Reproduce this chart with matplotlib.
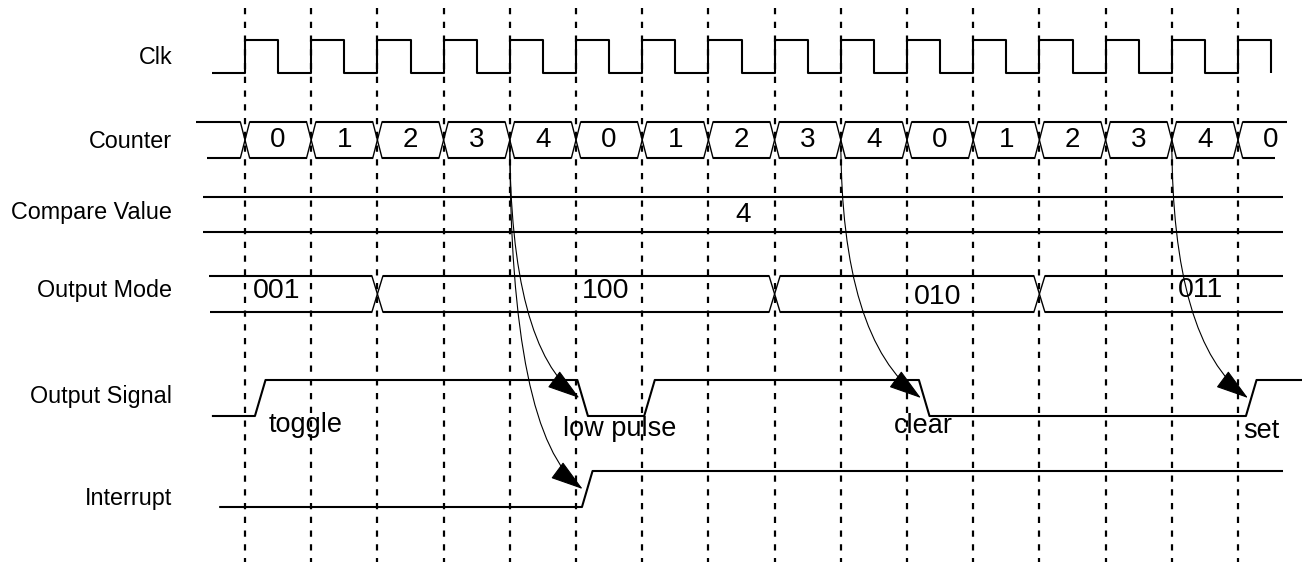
import numpy as np
import matplotlib.pyplot as plt
from matplotlib.patches import FancyArrowPatch
from matplotlib.path import Path

plt.rcParams['font.family'] = ['Liberation Sans', 'DejaVu Sans']
plt.rcParams['lines.scale_dashes'] = False

# Signal data (time in clock cycles)
row_names = ["Clk", "Counter", "Compare Value", "Output Mode", "Output Signal", "Interrupt"]
n_cycles = 16
counter_values = [0, 1, 2, 3, 4, 0, 1, 2, 3, 4, 0, 1, 2, 3, 4, 0]
compare_value = 4
mode_values = ["001", "100", "010", "011"]
mode_changes = [2, 8, 12]
mode_names = ["toggle", "low pulse", "clear", "set"]
out_edges = [0.15, 5.02, 6.03, 10.18, 15.12]
out_levels = [1, 0, 1, 0, 1]
irq_edge = 5.09
slew = 0.16

# Layout (y in pixels from top, x in cycles)
PX = 66.2                      # pixels per cycle
X0 = 245.0                     # pixel of cycle 0
rows_y = {"Clk": (40, 73), "Counter": (122, 158), "Compare Value": (197, 232),
          "Output Mode": (276, 312), "Output Signal": (380, 416), "Interrupt": (471, 507)}
label_y = [57, 141, 213, 291, 397, 498]
mode_label_x = [0.48, 5.44, 10.47, 14.44]
mode_label_y = [291, 291, 297, 290]
name_x = [0.92, 5.66, 10.24, 15.35]
name_y = [425, 429, 426, 431]

fig = plt.figure(figsize=(13.02, 5.65), dpi=100)
ax = fig.add_axes([0, 0, 1, 1])
ax.set_xlim(-X0 / PX, (1302 - X0) / PX)
ax.set_ylim(565, 0)
ax.axis("off")

LW = 1.5
kw = dict(color="black", lw=LW, solid_capstyle="butt")

# dashed cycle markers
for k in range(n_cycles):
    ax.plot([k, k], [8, 562], color="black", lw=1.6, linestyle=(0, (4.5, 5.4)))

# row labels
for name, y in zip(row_names, label_y):
    ax.text(-1.1, y, name, ha="right", va="center", fontsize=16.8)

# clock
hi, lo = rows_y["Clk"]
cx = [-0.5]
cy = [lo]
for k in range(n_cycles):
    cx += [k, k, k + 0.5, k + 0.5]
    cy += [lo, hi, hi, lo]
ax.plot(cx, cy, **kw)


def draw_bus(y_top, y_bot, trans, start, end, h):
    bounds = [start[0]] + list(trans) + [end[0]]
    n = len(bounds) - 1
    for i in range(n):
        a_top = start[0] if i == 0 else bounds[i] + h
        a_bot = start[1] if i == 0 else bounds[i] + h
        b_top = end[0] if i == n - 1 else bounds[i + 1] - h
        b_bot = end[1] if i == n - 1 else bounds[i + 1] - h
        ax.plot([a_top, b_top], [y_top, y_top], **kw)
        ax.plot([a_bot, b_bot], [y_bot, y_bot], **kw)
    for t in trans:
        ax.plot([t - h, t + h], [y_top, y_bot], color="black", lw=1.0)
        ax.plot([t - h, t + h], [y_bot, y_top], color="black", lw=1.0)


# counter bus
ct, cb = rows_y["Counter"]
draw_bus(ct, cb, range(n_cycles), (-0.74, -0.57), (15.74, 15.56), 0.07)
for k, v in enumerate(counter_values):
    ax.text(k + 0.5, (ct + cb) / 2, str(v), ha="center", va="center", fontsize=20)

# compare value
pt, pb = rows_y["Compare Value"]
ax.plot([-0.63, 15.68], [pt, pt], **kw)
ax.plot([-0.63, 15.68], [pb, pb], **kw)
ax.text(7.52, (pt + pb) / 2, str(compare_value), ha="center", va="center", fontsize=20)

# output mode bus
mt, mb = rows_y["Output Mode"]
draw_bus(mt, mb, mode_changes, (-0.54, -0.53), (15.68, 15.68), 0.083)
for v, x, y in zip(mode_values, mode_label_x, mode_label_y):
    ax.text(x, y, v, ha="center", va="center", fontsize=20.5)

# output signal
oh, ol = rows_y["Output Signal"]
lvl = {1: oh, 0: ol}
sx, sy = [-0.5], [ol]
prev = 0
for t, L in zip(out_edges, out_levels):
    sx += [t, t + slew]
    sy += [lvl[prev], lvl[L]]
    prev = L
sx.append(16.2)
sy.append(lvl[prev])
ax.plot(sx, sy, **kw)
for v, x, y in zip(mode_names, name_x, name_y):
    ax.text(x, y, v, ha="center", va="center", fontsize=19.5)

# interrupt
ih, il = rows_y["Interrupt"]
ax.plot([-0.39, irq_edge, irq_edge + slew, 15.68], [il, il, ih, ih], **kw)

# causal arrows from compare match to output/interrupt edges
match_cycles = [k for k, v in enumerate(counter_values) if v == compare_value]
targets = []
for m in match_cycles:
    nxt = [i for i, t in enumerate(out_edges) if t > m][0]
    t = out_edges[nxt]
    targets.append((m, t + slew / 2 - 0.05, (oh + ol) / 2))
    if abs(irq_edge - t) < 0.5:
        targets.append((m, irq_edge + slew / 2 - 0.07, (ih + il) / 2))

for m, tx, ty in targets:
    y0 = (ct + cb) / 2
    ctrl = (m, ty - 0.74 * (tx - m) * PX)
    path = Path([(m, y0), ctrl, (tx, ty)], [Path.MOVETO, Path.CURVE3, Path.CURVE3])
    arr = FancyArrowPatch(path=path, arrowstyle="-|>,head_length=2.1,head_width=0.65",
                          mutation_scale=10, color="black", lw=0.8)
    ax.add_patch(arr)

fig.savefig("out.png", dpi=100)
